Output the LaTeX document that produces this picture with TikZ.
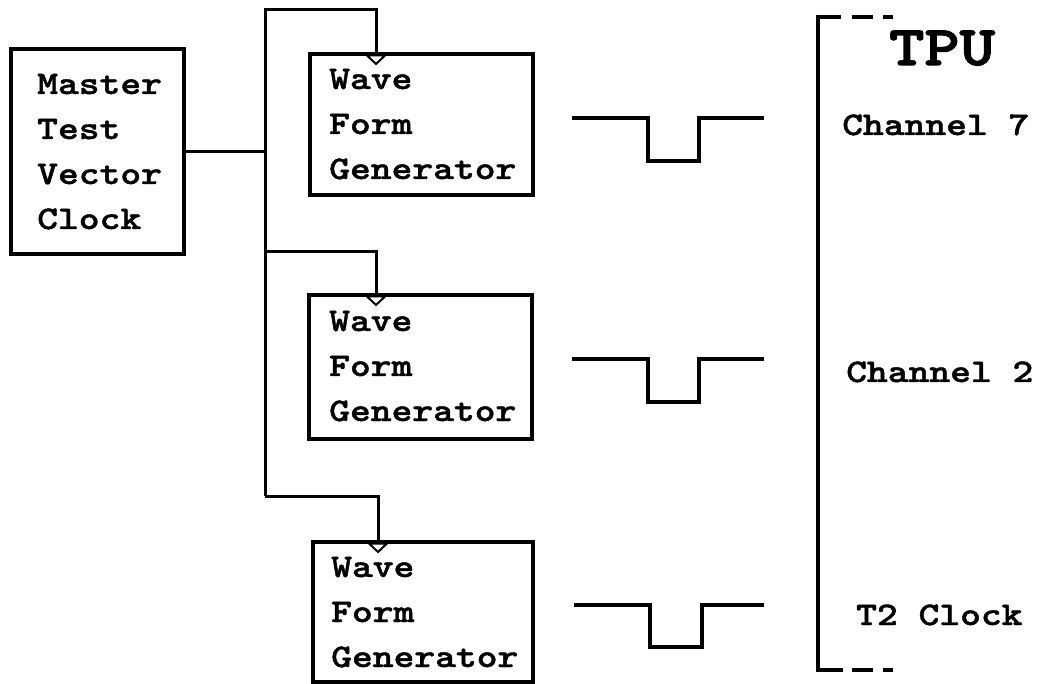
\documentclass[tikz,border=0pt]{standalone}
\usepackage{fontspec}
\newfontfamily\labfont{lmmonolt10-bold}[Extension=.otf, FakeStretch=1.2, FakeBold=1.3]
\newfontfamily\bigfont{lmmonolt10-bold}[Extension=.otf, FakeStretch=1.2, FakeBold=2.2]
\begin{document}
\begin{tikzpicture}[x=1pt,y=-1pt,
  lab/.style={font=\labfont\fontsize{33}{45}\selectfont, anchor=base west, inner sep=0pt},
  big/.style={font=\bigfont\fontsize{56}{70}\selectfont, anchor=base west, inner sep=0pt},
  genbox/.style={draw, line width=3.5pt, rectangle, inner sep=0pt},
  wire/.style={line width=3pt},
  wave/.style={line width=4pt},
  tri/.style={draw, fill=white, line width=2pt, line join=miter}
]
\useasboundingbox (0,0) rectangle (1039,684);

% boxes
\node[genbox, line width=4.5pt, minimum width=173pt, minimum height=205pt] (master) at (97.5,151.5) {};
\node[genbox, minimum width=223pt, minimum height=141pt] (wfg1) at (421.5,124.5) {};
\node[genbox, minimum width=223pt, minimum height=144pt] (wfg2) at (420.5,367) {};
\node[genbox, minimum width=220pt, minimum height=140pt] (wfg3) at (423,612) {};

% texts
\node[lab] (m1) at (37,94) {Master};
\node[lab] (m2) at (37,139) {Test};
\node[lab] (m3) at (37,184) {Vector};
\node[lab] (m4) at (37,229) {Clock};

\node[lab] (a1) at (329,89) {Wave};
\node[lab] (a2) at (329,134) {Form};
\node[lab] (a3) at (329,179) {Generator};

\node[lab] (b1) at (329,331) {Wave};
\node[lab] (b2) at (329,376) {Form};
\node[lab] (b3) at (329,421) {Generator};

\node[lab] (c1) at (331,577) {Wave};
\node[lab] (c2) at (331,622) {Form};
\node[lab] (c3) at (331,667) {Generator};

\node[big] (tpu) at (889,65) {TPU};
\node[lab] (ch7) at (842,135) {Channel 7};
\node[lab] (ch2) at (846,382) {Channel 2};
\node[lab] (t2) at (856,625) {T2 Clock};

% bus
\coordinate (j0) at (265,152);
\coordinate (btop) at (265,10);
\coordinate (bj2) at (265,252);
\coordinate (bj3) at (265,496);
\coordinate (in1) at (376,54);
\coordinate (in2) at (376,295);
\coordinate (in3) at (378,542);

\draw[wire] (master.east |- j0) -- (j0);
\draw[wire, line join=miter] (bj3) -- (btop) -| (in1);
\draw[wire, line join=miter] (bj2) -| (in2);
\draw[wire, line join=miter] (bj3) -| (in3);

% input triangles
\foreach \p in {in1,in2,in3}{
  \draw[tri] ([shift={(-9,1.5)}]\p) -- ([shift={(9,1.5)}]\p) -- ([shift={(0,10)}]\p) -- cycle;
}

% waveforms
\draw[wave, line join=miter] (572,118) -- (648,118) -- (648,161) -- (699,161) -- (699,118) -- (764,118);
\draw[wave, line join=miter] (572,359) -- (648,359) -- (648,402) -- (699,402) -- (699,359) -- (764,359);
\draw[wave, line join=miter] (574,605) -- (650,605) -- (650,647) -- (702,647) -- (702,605) -- (764,605);

% TPU bracket
\draw[line width=3.5pt, line join=miter] (841,17) -- (818,17) -- (818,670) -- (843,670);
\draw[line width=3.5pt] (852,17) -- (873,17) (883,17) -- (893,17);
\draw[line width=3.5pt] (852,670) -- (873,670) (883,670) -- (893,670);
\end{tikzpicture}
\end{document}
